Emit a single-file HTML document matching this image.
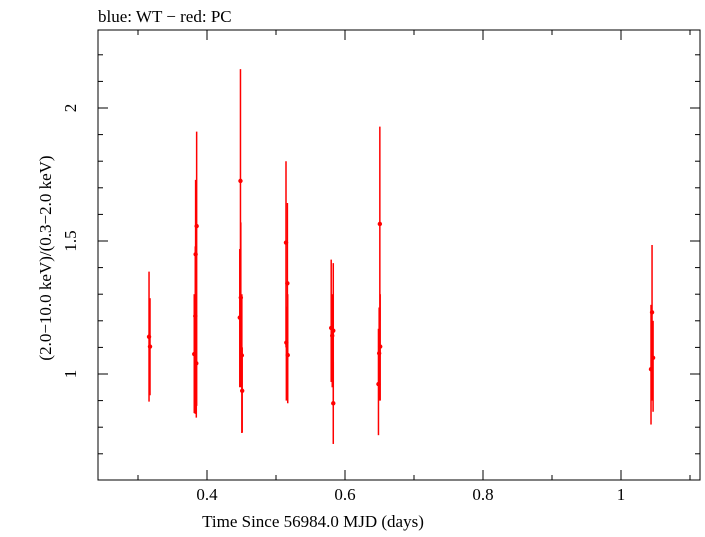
<!DOCTYPE html>
<html><head><meta charset="utf-8"><style>
body{margin:0;background:#fff;}
svg text{font-family:"Liberation Serif",serif;fill:#000;}
</style></head><body>
<svg id="chart" width="705" height="532" xmlns="http://www.w3.org/2000/svg">
<text x="98" y="22" font-size="17">blue: WT − red: PC</text>
<rect x="98" y="30" width="602" height="450" fill="none" stroke="#000" stroke-width="1"/>
<g id="axes"></g>
<g id="marks"></g>
<text x="313" y="527" font-size="17" text-anchor="middle">Time Since 56984.0 MJD (days)</text>
<text transform="translate(51,258) rotate(-90)" font-size="17" text-anchor="middle">(2.0−10.0 keV)/(0.3−2.0 keV)</text>
</svg>
<script>
const times = [0.316,0.3174,0.385,0.3835,0.383,0.3815,0.3845,0.4485,0.449,0.4475,0.4505,0.451,0.5145,0.5165,0.515,0.517,0.58,0.583,0.5815,0.583,0.6505,0.651,0.6495,0.6485,1.045,1.0465,1.0435];
const ratios = [1.14,1.103,1.556,1.45,1.218,1.075,1.04,1.726,1.287,1.212,1.07,0.937,1.494,1.341,1.118,1.071,1.173,1.163,1.144,0.89,1.564,1.103,1.078,0.962,1.232,1.061,1.018];
const errHi = [1.385,1.285,1.911,1.73,1.48,1.30,1.24,2.146,1.57,1.47,1.30,1.10,1.80,1.643,1.253,1.30,1.43,1.417,1.30,1.046,1.93,1.30,1.25,1.17,1.485,1.20,1.26];
const errLo = [0.896,0.92,0.88,0.95,0.85,0.853,0.836,1.30,0.95,0.95,0.778,0.78,1.10,1.05,0.90,0.89,0.97,0.90,0.95,0.737,1.20,0.90,0.90,0.77,0.90,0.858,0.81];
const xTicks = [0.4,0.6,0.8,1.0];
const xTickLabels = ["0.4","0.6","0.8","1"];
const yTicks = [1,1.5,2];
const yTickLabels = ["1","1.5","2"];

const X = v => 207 + (v-0.4)*690;
const Y = v => 374 - (v-1)*266;
const NS="http://www.w3.org/2000/svg";
const axes=document.getElementById('axes'), marks=document.getElementById('marks');
function mk(tag,attrs,parent){const e=document.createElementNS(NS,tag);for(const k in attrs)e.setAttribute(k,attrs[k]);parent.appendChild(e);return e;}
for(let i=3; i<=11; i++){const v=i/10;const x=X(v);if(x<98||x>700)continue;
 const major=xTicks.some(t=>Math.abs(t-v)<1e-6);const L=major?10:5;
 let t=mk('line',{x1:x,x2:x,y1:480,y2:480-L,stroke:'#000'},axes);
 
 
 t=mk('line',{x1:x,x2:x,y1:30,y2:30+L,stroke:'#000'},axes);
 
 }
for(let i=7; i<=23; i++){const v=i/10;const y=Y(v);if(y<30||y>480)continue;
 const major=yTicks.some(t=>Math.abs(t-v)<1e-6);const L=major?10:5;
 let t=mk('line',{x1:98,x2:98+L,y1:y,y2:y,stroke:'#000'},axes);
 
 
 t=mk('line',{x1:700,x2:700-L,y1:y,y2:y,stroke:'#000'},axes);
 
 }
xTicks.forEach((v,i)=>{const t=mk('text',{x:X(v),y:500,'font-size':17,'text-anchor':'middle'},axes);t.textContent=xTickLabels[i];
 
 });
yTicks.forEach((v,i)=>{const t=mk('text',{x:0,y:0,'font-size':17,'text-anchor':'middle',transform:`translate(76,${Y(v)}) rotate(-90)`},axes);t.textContent=yTickLabels[i];
 
 });
times.forEach((t,i)=>{const x=X(t);
 const l=mk('line',{x1:x,x2:x,y1:Y(errHi[i]),y2:Y(errLo[i]),stroke:'#f00','stroke-width':1.5},marks);
 
 
 const c=mk('circle',{cx:x,cy:Y(ratios[i]),r:2.2,fill:'#f00'},marks);
 
 });
</script>
</body></html>
